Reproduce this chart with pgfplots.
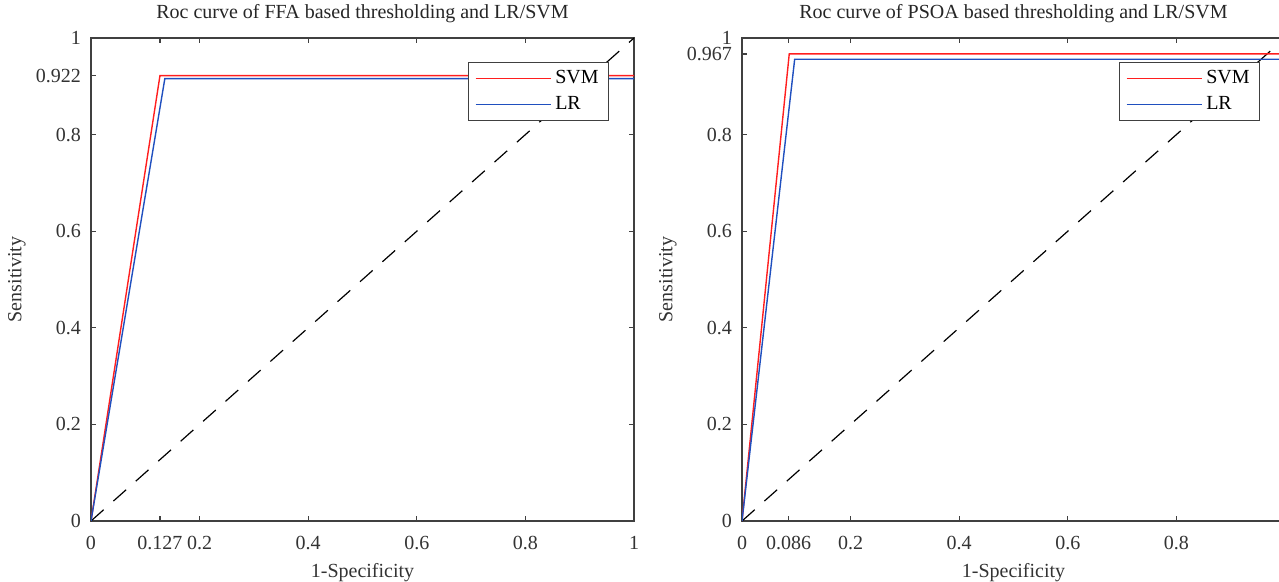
\documentclass[border=0pt]{standalone}
\usepackage{fontspec}
\setmainfont{Liberation Serif}
\usepackage{pgfplots}
\pgfplotsset{compat=1.18}
\definecolor{axgray}{HTML}{404040}
\definecolor{svmred}{HTML}{FF1E1E}
\definecolor{lrblue}{HTML}{1F4FBF}
\newcommand{\fs}{\fontsize{10}{11.5}\selectfont}

\pgfplotsset{
  every axis title shift=0pt,
  rocaxis/.style={
    scale only axis, width=271.5pt, height=241.5pt,
    xmin=0, xmax=1, ymin=0, ymax=1,
    axis line style={axgray, line width=0.6pt},
    tick style={axgray, line width=0.6pt},
    major tick length=2.5pt,
    tick align=inside,
    ticklabel style={font=\fs, text=black!80},
    xticklabel style={yshift=-4pt},
    yticklabel style={xshift=-1.5pt},
    /pgf/number format/assume math mode=true,
    label style={font=\fs, text=black!80},
    xlabel={1-Specificity}, ylabel={Sensitivity},
    xlabel style={at={(0.5,0)}, anchor=center, yshift=-26pt},
    ylabel style={at={(0,0.5)}, anchor=center, yshift=37pt},
    title style={font=\fs, text=black!85, at={(0.5,1)}, anchor=base, yshift=9.5pt},
    legend style={at={(1,1)}, anchor=north east, xshift=-12.5pt, yshift=-12pt,
      draw=axgray, font=\fs, inner xsep=3pt, inner ysep=2pt,
      row sep=1pt, legend cell align=left},
    legend image code/.code={\draw[##1] (0pt,0pt) -- (37.5pt,0pt);},
  }
}

\begin{document}
\begin{tikzpicture}
\begin{axis}[rocaxis,
  at={(45.5pt,-260.5pt)}, anchor=south west,
  title={Roc curve of FFA based thresholding and LR/SVM},
  xtick={0,0.127,0.2,0.4,0.6,0.8,1},
  xticklabels={0,0.127,0.2,0.4,0.6,0.8,1},
  ytick={0,0.2,0.4,0.6,0.8,0.922,1},
  yticklabels={0,0.2,0.4,0.6,0.8,0.922,1},
]
\addplot[black, line width=0.6pt, dash pattern=on 8.5pt off 6.5pt, forget plot] coordinates {(0,0) (1,1)};
\addplot[svmred, line width=0.7pt] coordinates {(0,0) (0.127,0.922) (1,0.922)};
\addplot[lrblue, line width=0.7pt] coordinates {(0,0) (0.136,0.916) (1,0.916)};
\legend{SVM,LR}
\end{axis}

\begin{axis}[rocaxis,
  at={(371pt,-260.5pt)}, anchor=south west,
  title={Roc curve of PSOA based thresholding and LR/SVM},
  xtick={0,0.086,0.2,0.4,0.6,0.8,1},
  xticklabels={0,0.086,0.2,0.4,0.6,0.8,1},
  ytick={0,0.2,0.4,0.6,0.8,0.967,1},
  yticklabels={0,0.2,0.4,0.6,0.8,0.967,1},
]
\addplot[black, line width=0.6pt, dash pattern=on 8.5pt off 6.5pt, forget plot] coordinates {(0,0) (1,1)};
\addplot[svmred, line width=0.7pt] coordinates {(0,0) (0.087,0.967) (1,0.967)};
\addplot[lrblue, line width=0.7pt] coordinates {(0,0) (0.097,0.956) (1,0.956)};
\legend{SVM,LR}
\end{axis}
\pgfresetboundingbox
\useasboundingbox (0pt,0pt) rectangle (639.5pt,-291pt);
\end{tikzpicture}
\end{document}
